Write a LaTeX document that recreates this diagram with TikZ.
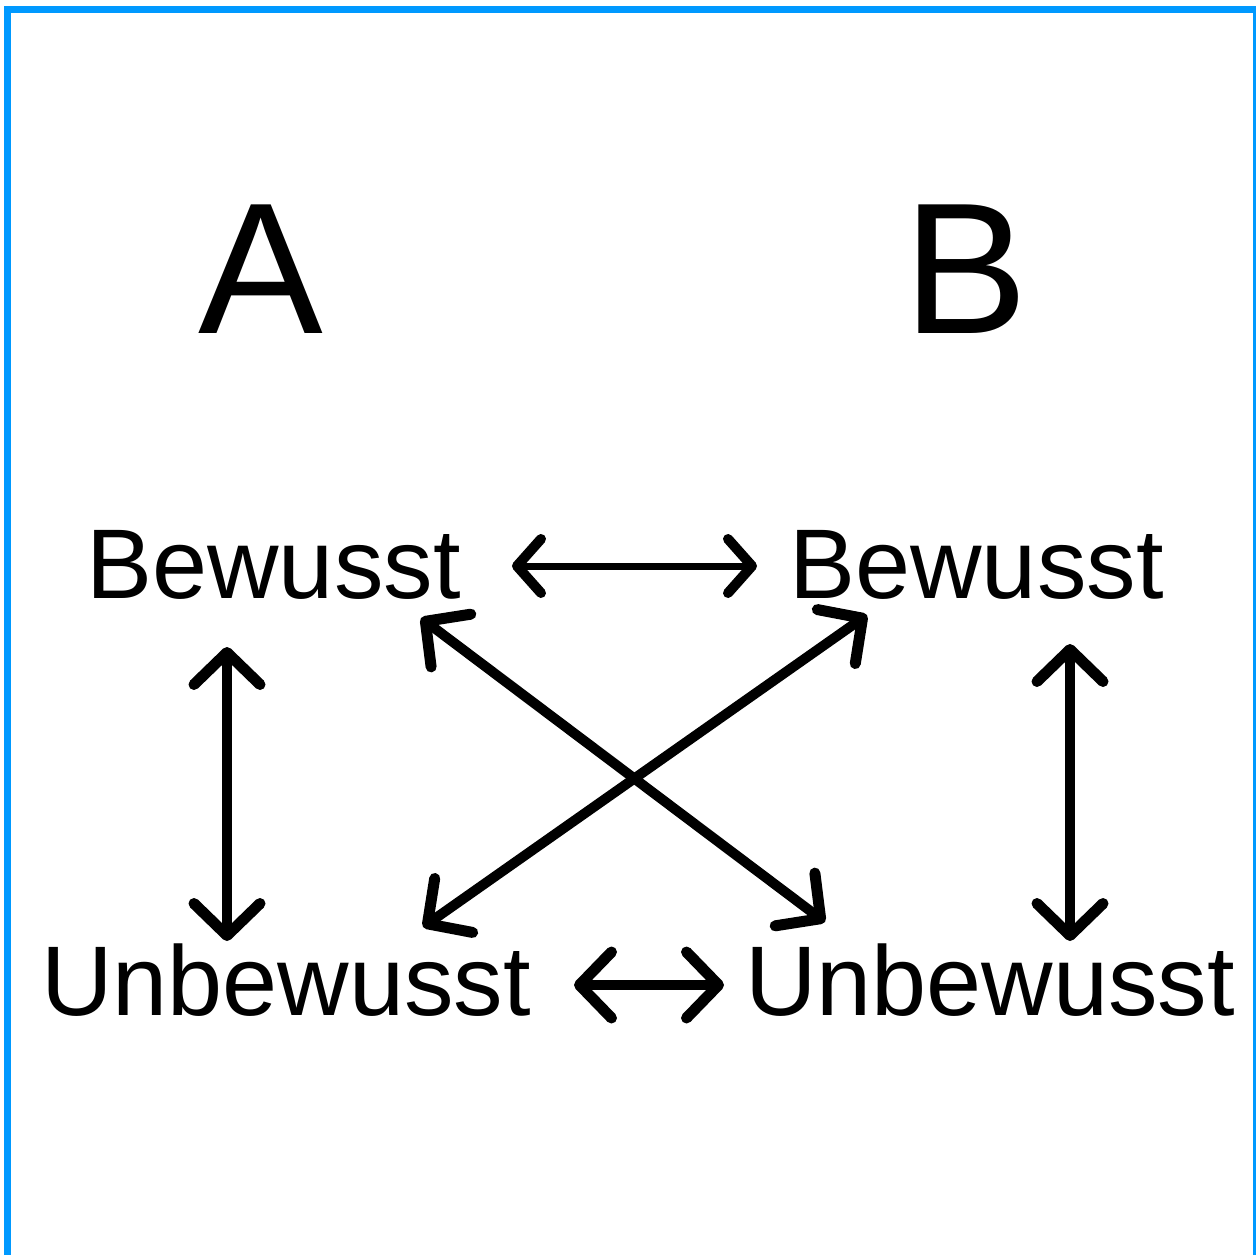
\documentclass[tikz,border=0pt]{standalone}
\usepackage{fontspec}
\setmainfont{Liberation Sans}
\usetikzlibrary{arrows.meta}
\definecolor{frameblue}{HTML}{0099FF}
\tikzset{
  big/.style={inner sep=0pt, anchor=base, font=\fontsize{187}{190}\selectfont},
  word/.style={inner sep=0pt, anchor=base, font=\fontsize{99}{100}\selectfont},
  link/.style={line width=10pt, {Straight Barb[length=32pt,width=66pt,line width=11pt,round]}-{Straight Barb[length=32pt,width=66pt,line width=11pt,round]}},
  thinlink/.style={line width=7pt, {Straight Barb[length=24pt,width=54pt,line width=10pt,round]}-{Straight Barb[length=24pt,width=54pt,line width=10pt,round]}},
}
\begin{document}
\begin{tikzpicture}[x=1pt,y=-1pt]
\useasboundingbox (0,0) rectangle (1256,1254);
\begin{scope}
\clip (0,0) rectangle (1256,1254);
\draw[frameblue, line width=7pt] (7,9) rectangle (1256.5,1270);
\end{scope}
\node[big] (A) at (261,333) {A};
\node[big] (B) at (966,333) {B};
\node[word] (bA) at (273.5,598) {Bewusst};
\node[word] (bB) at (976.5,598) {Bewusst};
\node[word] (uA) at (286,1015) {Unbewusst};
\node[word] (uB) at (990,1015) {Unbewusst};
% arrow end points
\coordinate (h1a) at (512,566);
\coordinate (h1b) at (757,566);
\coordinate (h2a) at (574,985);
\coordinate (h2b) at (724,985);
\coordinate (v1a) at (227,647);
\coordinate (v1b) at (227,941);
\coordinate (v2a) at (1070,644);
\coordinate (v2b) at (1070,941);
\coordinate (d1a) at (421,618);
\coordinate (d1b) at (825,922);
\coordinate (d2a) at (867,615);
\coordinate (d2b) at (423,927);
\draw[thinlink] (h1a) -- (h1b);
\draw[link] (h2a) -- (h2b);
\draw[link] (v1a) -- (v1b);
\draw[link] (v2a) -- (v2b);
\draw[link] (d1a) -- (d1b);
\draw[link] (d2a) -- (d2b);
\end{tikzpicture}
\end{document}
